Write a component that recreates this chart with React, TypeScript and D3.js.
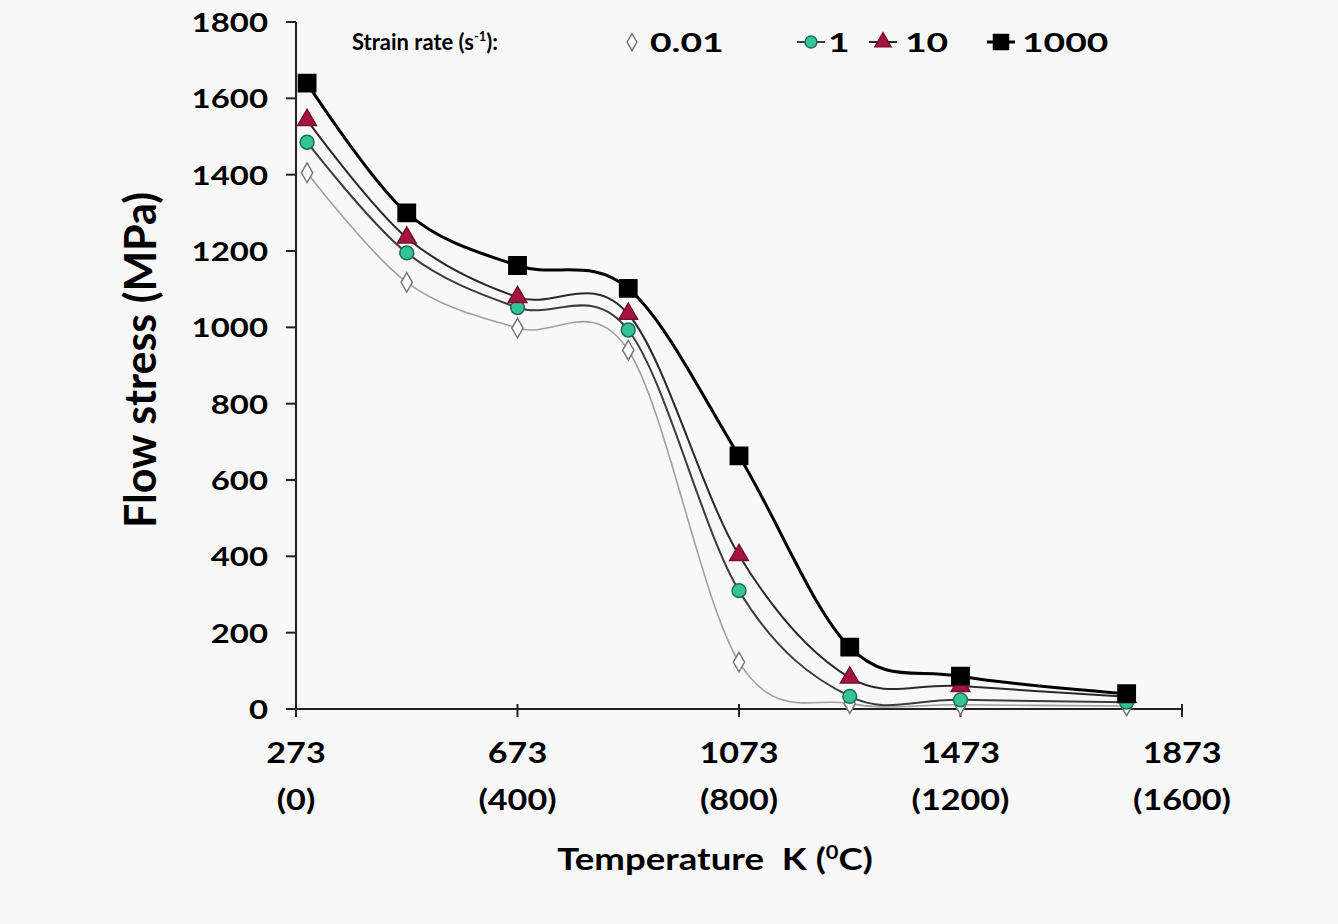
import React, { useEffect, useRef } from 'react';
import * as d3 from 'd3';

// Temperature (K) of each test
const temperatures = [293, 473, 673, 873, 1073, 1273, 1473, 1773];

// Flow stress (MPa) per strain rate
const rate001 = [1405, 1118, 998, 940, 123, 14, 11, 8];
const rate1 = [1485, 1195, 1052, 993, 310, 33, 24, 18];
const rate10 = [1543, 1235, 1079, 1035, 403, 82, 60, 32];
const rate1000 = [1640, 1300, 1162, 1102, 663, 162, 86, 40];

const seriesNames = ['0.01', '1', '10', '1000'];
const yTicks = [0, 200, 400, 600, 800, 1000, 1200, 1400, 1600, 1800];
const xTicksK = [273, 673, 1073, 1473, 1873];
const xTicksC = ['(0)', '(400)', '(800)', '(1200)', '(1600)'];

const W = 1338;
const H = 924;
const FONT = 'Lato, "Open Sans", sans-serif';
const SX = 1.22; // the source image is stretched horizontally

export default function App() {
  const svgRef = useRef<SVGSVGElement>(null);

  useEffect(() => {
    document.body.style.margin = '0';
    const svg = d3.select(svgRef.current);
    svg.selectAll('*').remove();

    const x = d3.scaleLinear().domain([273, 1873]).range([296, 1182]);
    const y = d3.scaleLinear().domain([0, 1800]).range([709, 22]);

    svg.append('rect').attr('width', W).attr('height', H).attr('fill', '#f8f8f8');

    const txt = (px: number, py: number, s: string, size: number, anchor = 'middle', sx = SX) =>
      svg.append('text')
        .attr('transform', `translate(${px},${py}) scale(${sx},1)`)
        .attr('text-anchor', anchor)
        .attr('font-family', FONT)
        .attr('font-weight', 'bold')
        .attr('font-size', size)
        .attr('fill', '#000')
        .text(s);

    // axes
    const ax = svg.append('g').attr('stroke', '#222').attr('stroke-width', 2);
    ax.append('line').attr('x1', x(273)).attr('x2', x(273)).attr('y1', y(1800)).attr('y2', y(0));
    ax.append('line').attr('x1', x(273) - 10).attr('x2', x(1873)).attr('y1', y(0)).attr('y2', y(0));
    yTicks.forEach(t => {
      ax.append('line').attr('x1', x(273) - 10).attr('x2', x(273)).attr('y1', y(t)).attr('y2', y(t));
      txt(x(273) - 28, y(t) + 10, String(t), 27, 'end');
    });
    xTicksK.forEach((t, i) => {
      ax.append('line').attr('x1', x(t)).attr('x2', x(t)).attr('y1', y(0) - 5).attr('y2', y(0) + 8);
      txt(x(t), 763, String(t), 28);
      txt(x(t), 810, xTicksC[i], 28);
    });

    // axis titles
    svg.append('text')
      .attr('transform', 'translate(156,360) rotate(-90)')
      .attr('text-anchor', 'middle')
      .attr('font-family', FONT)
      .attr('font-weight', 'bold')
      .attr('font-size', 43)
      .attr('fill', '#000')
      .text('Flow stress (MPa)');

    const xt = txt(715, 870, '', 30);
    xt.append('tspan').text('Temperature\u00a0\u00a0K (');
    xt.append('tspan').attr('font-size', 18).attr('dy', -11).text('0');
    xt.append('tspan').attr('dy', 11).text('C)');

    const series = [
      { name: seriesNames[0], values: rate001, line: '#a0a0a0', lw: 1.6, shape: d3.symbolDiamond, size: 110, fill: '#fff', stroke: '#777' },
      { name: seriesNames[1], values: rate1, line: '#3c3c3c', lw: 2, shape: d3.symbolCircle, size: 150, fill: '#35c49a', stroke: '#1d6e55' },
      { name: seriesNames[2], values: rate10, line: '#2a2a2a', lw: 2, shape: d3.symbolTriangle, size: 150, fill: '#a3153f', stroke: '#7a0d2e' },
      { name: seriesNames[3], values: rate1000, line: '#000', lw: 3, shape: d3.symbolSquare, size: 300, fill: '#000', stroke: '#000' },
    ];

    const line = d3.line<number>()
      .x((_, i) => x(temperatures[i]))
      .y(d => y(d))
      .curve(d3.curveCardinal.tension(0));

    series.forEach(s => {
      svg.append('path').attr('d', line(s.values)).attr('fill', 'none')
        .attr('stroke', s.line).attr('stroke-width', s.lw);
    });
    series.forEach(s => {
      s.values.forEach((v, i) => {
        svg.append('path')
          .attr('d', d3.symbol().type(s.shape).size(s.size)())
          .attr('transform', `translate(${x(temperatures[i])},${y(v)})`)
          .attr('fill', s.fill).attr('stroke', s.stroke).attr('stroke-width', 1.5);
      });
    });

    // legend
    const lg = txt(352, 50, '', 22, 'start', 1);
    lg.append('tspan').text('Strain rate (s');
    lg.append('tspan').attr('font-size', 13).attr('dy', -9).text('-1');
    lg.append('tspan').attr('dy', 9).text('):');

    const legendX = [632, 811, 883, 1001];
    const labelX = [650, 828, 905, 1022];
    series.forEach((s, i) => {
      if (i > 0) {
        svg.append('line').attr('x1', legendX[i] - 14).attr('x2', legendX[i] + 14)
          .attr('y1', 42).attr('y2', 42).attr('stroke', s.line).attr('stroke-width', s.lw);
      }
      svg.append('path')
        .attr('d', d3.symbol().type(s.shape).size(s.size * 0.75)())
        .attr('transform', `translate(${legendX[i]},42)`)
        .attr('fill', s.fill).attr('stroke', s.stroke).attr('stroke-width', 1.5);
      txt(labelX[i], 52, s.name, 27, 'start', 1.38);
    });
  }, []);

  return <svg ref={svgRef} width={W} height={H} style={{ display: 'block' }} />;
}
